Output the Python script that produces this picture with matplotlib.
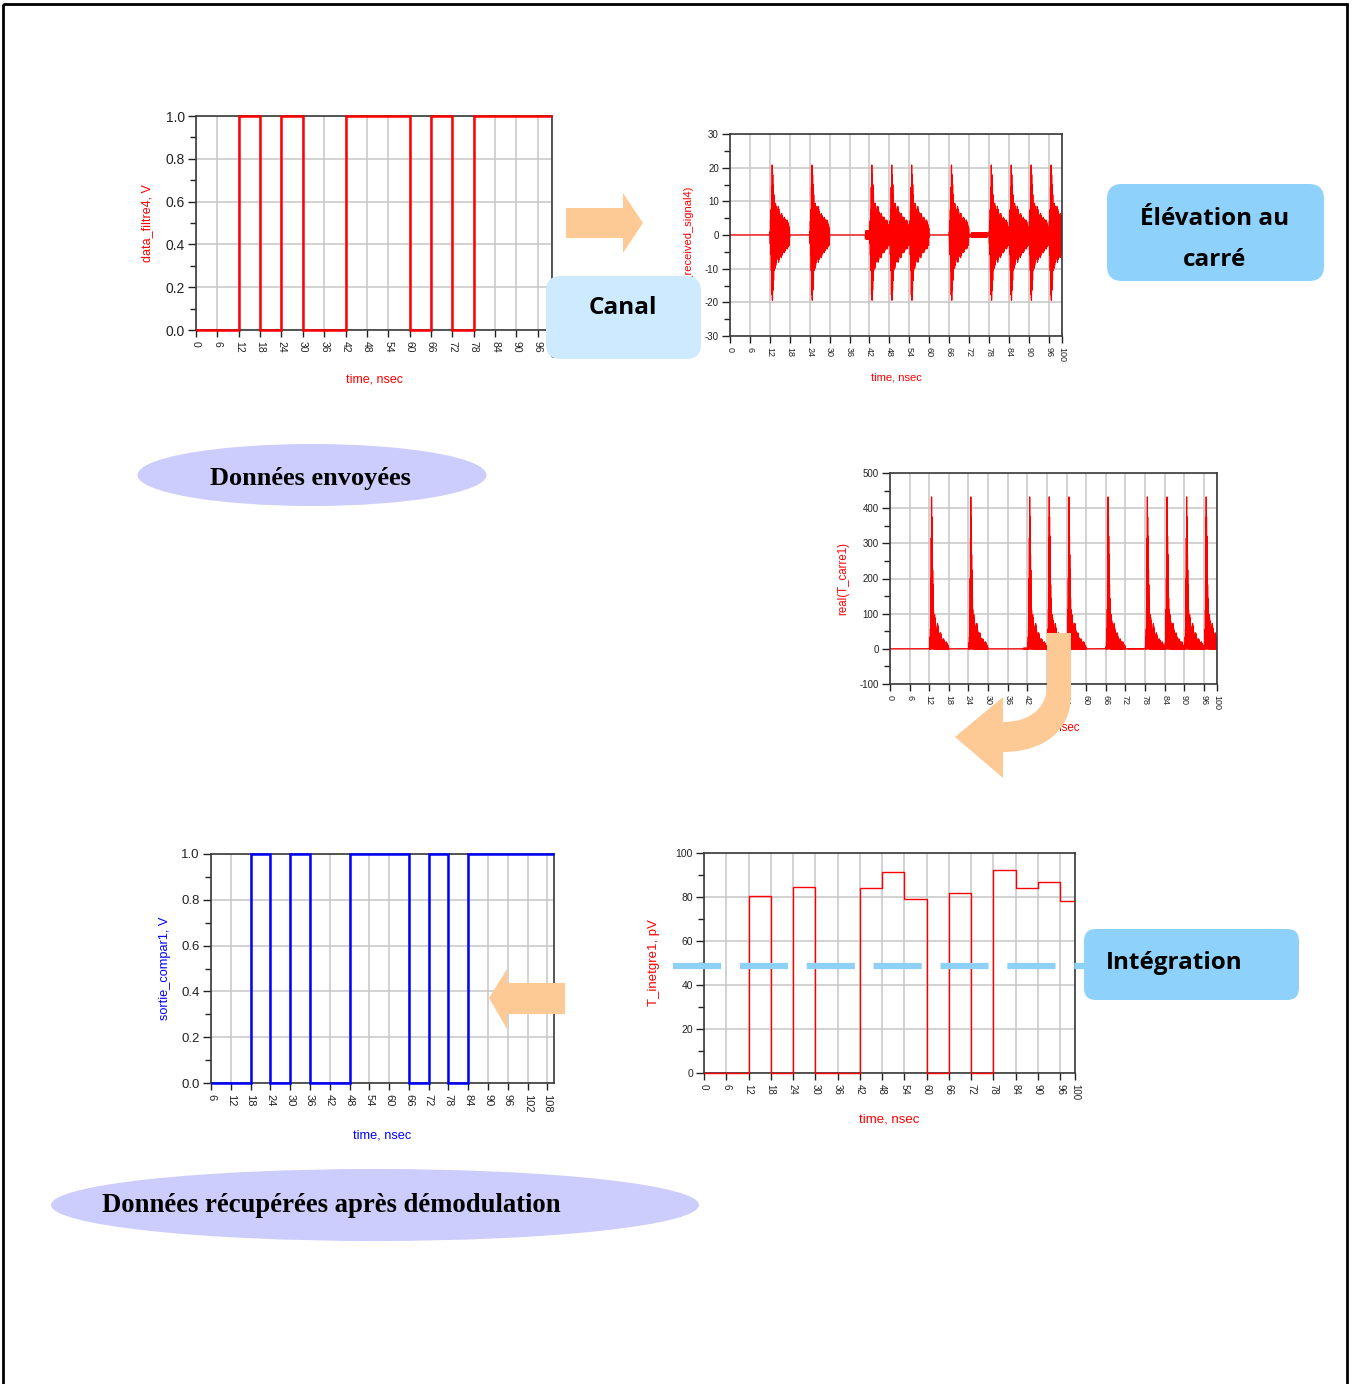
import numpy as np
import matplotlib.pyplot as plt
from matplotlib.patches import FancyBboxPatch, Ellipse, Rectangle, PathPatch, Polygon
from matplotlib.path import Path
from matplotlib.transforms import Affine2D

plt.rcParams['font.family'] = ['Liberation Sans', 'DejaVu Sans']
plt.rcParams['axes.unicode_minus'] = False

W, H = 1354, 1384

# ============ DATA ============

slot_ns = 6
time_ticks = [0, 6, 12, 18, 24, 30, 36, 42, 48, 54, 60, 66, 72, 78, 84, 90, 96, 100]

# sent bits, one per 6 ns slot starting at 0 ns
sent_bits = [0, 0, 1, 0, 1, 0, 0, 1, 1, 1, 0, 1, 0, 1, 1, 1, 1]

# recovered bits, one per 6 ns slot starting at 6 ns
recovered_start = 6
recovered_bits = [0, 0, 1, 0, 1, 0, 0, 1, 1, 1, 0, 1, 0, 1, 1, 1, 1, 1]
recovered_ticks = [6, 12, 18, 24, 30, 36, 42, 48, 54, 60, 66, 72, 78, 84, 90, 96, 102, 108]

# received signal: start of each burst (ns) and burst envelope (ns after start, amplitude)
burst_starts = [12, 24, 42, 48, 54, 66, 78, 84, 90, 96]
env_t = [0.0, 0.4, 0.7, 1.55, 1.6, 2.45, 2.5, 3.35, 3.4, 4.25, 4.3, 5.15, 5.2, 5.75, 5.8, 6.0]
env_a = [0.0, 8.0, 21.0, 6.0, 10.0, 5.5, 8.7, 4.5, 7.0, 3.5, 5.5, 3.0, 4.5, 2.5, 3.2, 0.0]
carrier_ghz = 6.0
# small residual oscillation between bursts (start, end, amplitude)
leaks = [(40.8, 42.0, 1.2), (72.6, 77.6, 0.6)]

# integrator output, pV
integ_edges = [0, 12, 18, 24, 30, 42, 48, 54, 60, 66, 72, 78, 84, 90, 96, 100]
integ_vals = [0, 80.3, 0, 84.5, 0, 84.0, 91.3, 79.0, 0, 81.7, 0, 92.3, 84.0, 86.6, 78.3]
threshold = 48.6

# ============ BUILD SIGNALS ============

t = np.arange(0, 100.0001, 0.005)
env = np.zeros_like(t)
for s in burst_starts:
    m = (t >= s) & (t <= s + env_t[-1])
    env[m] = np.maximum(env[m], np.interp(t[m] - s, env_t, env_a))
for a, b, amp in leaks:
    m = (t >= a) & (t <= b)
    env[m] = np.maximum(env[m], amp)
received = env * np.sin(2 * np.pi * carrier_ghz * t)
squared = received ** 2

fig = plt.figure(figsize=(W / 100, H / 100), dpi=100)
pix = Affine2D().scale(1 / W, -1 / H).translate(0, 1) + fig.transFigure


def make_axes(l, t_, r, b):
    return fig.add_axes([l / W, 1 - b / H, (r - l) / W, (b - t_) / H])


def style(ax, box, xlim, xticks, ylim, yticks, yminor, xlabel, ylabel, color,
          xfs, yfs, lfs, xlab_px, ylab_px, ylab_y=0.5):
    l, t_, r, b = box
    ax.set_xlim(xlim)
    ax.set_ylim(ylim)
    ax.set_xticks(xticks)
    ax.set_yticks(yticks)
    ax.set_yticks(yminor, minor=True)
    ax.grid(True, which='major', color='#c6c6c6', lw=1.1)
    ax.set_axisbelow(True)
    ax.tick_params(axis='x', rotation=-90, labelsize=xfs, length=5, width=1.0,
                   pad=3, colors='#222222')
    ax.tick_params(axis='y', which='major', labelsize=yfs, length=6, width=1.0,
                   pad=2, colors='#222222')
    ax.tick_params(axis='y', which='minor', length=4, width=1.0, colors='#222222')
    for sp in ax.spines.values():
        sp.set_color('#3a3a3a')
        sp.set_linewidth(1.2)
    ax.set_xlabel(xlabel, color=color, fontsize=lfs)
    ax.set_ylabel(ylabel, color=color, fontsize=lfs)
    ax.xaxis.label.set_verticalalignment('center')
    ax.yaxis.label.set_verticalalignment('center')
    ax.xaxis.set_label_coords(0.5, -(xlab_px - b) / (b - t_))
    ax.yaxis.set_label_coords(-(l - ylab_px) / (r - l), ylab_y)


# --- top left: sent data ---
box1 = (196, 116, 552, 330)
ax1 = make_axes(*box1)
e1 = np.minimum(slot_ns * np.arange(len(sent_bits) + 1), 100)
ax1.stairs(sent_bits, e1, baseline=None, color='red', lw=1.8, zorder=4, clip_on=False)
style(ax1, box1, (0, 100), time_ticks, (0, 1), np.arange(0, 1.01, 0.2),
      np.arange(0.1, 1, 0.2), 'time, nsec', 'data_filtre4, V', 'red',
      7.5, 10, 9, 380, 147)

# --- top right: received signal ---
box2 = (730, 134, 1062, 336)
ax2 = make_axes(*box2)
ax2.plot(t, received, color='red', lw=0.9)
style(ax2, box2, (0, 100), time_ticks, (-30, 30), np.arange(-30, 31, 10),
      np.arange(-25, 30, 10), 'time, nsec', 'real(received_signal4)', 'red',
      6.5, 7, 8, 378, 688, ylab_y=0.47)

# --- middle right: squared signal ---
box3 = (890, 473, 1217, 684)
ax3 = make_axes(*box3)
ax3.plot(t, squared, color='red', lw=0.9)
style(ax3, box3, (0, 100), time_ticks, (-100, 500), np.arange(-100, 501, 100),
      np.arange(-50, 500, 100), 'time, nsec', 'real(T_carre1)', 'red',
      6.5, 7, 8.3, 728, 843)

# --- bottom right: integrator ---
box5 = (704, 853, 1075, 1073)
ax5 = make_axes(*box5)
ax5.stairs(integ_vals, integ_edges, baseline=None, color='red', lw=1.0,
           zorder=4, clip_on=False)
ax5.plot([-8.4, 103], [threshold, threshold], color='#8fd0f6', lw=4.5,
         ls=(0, (7.7, 3.0)), solid_capstyle='butt', dash_capstyle='butt',
         clip_on=False, zorder=5)
style(ax5, box5, (0, 100), time_ticks, (0, 100), np.arange(0, 101, 20),
      np.arange(10, 100, 20), 'time, nsec', 'T_inetgre1, pV', 'red',
      7, 7.5, 9.5, 1120, 654)

# --- bottom left: recovered data ---
box4 = (211, 854, 554, 1083)
ax4 = make_axes(*box4)
e4 = np.minimum(recovered_start + slot_ns * np.arange(len(recovered_bits) + 1), 110)
ax4.stairs(recovered_bits, e4, baseline=None, color='blue', lw=1.8, zorder=4,
           clip_on=False)
style(ax4, box4, (6, 110), recovered_ticks, (0, 1), np.arange(0, 1.01, 0.2),
      np.arange(0.1, 1, 0.2), 'time, nsec', 'sortie_compar1, V', 'blue',
      8, 9.5, 9.2, 1136, 165)

# ============ DECORATIONS (pixel coordinates) ============

peach = '#fdca96'
fig.patches.append(Rectangle((3, 4), 1344, 1400, fill=False, ec='black', lw=2,
                             transform=pix))

fig.patches.append(Polygon([(566, 208), (623, 208), (623, 193), (643, 223),
                            (623, 253), (623, 238), (566, 238)],
                           closed=True, fc=peach, ec='none', transform=pix))
fig.patches.append(Polygon([(565, 983), (507, 983), (507, 969), (489, 998),
                            (507, 1029), (507, 1014), (565, 1014)],
                           closed=True, fc=peach, ec='none', transform=pix))
verts = [(1071, 633), (1071, 695), (1071, 732), (1042, 752), (1003, 752),
         (1003, 778), (955, 737), (1003, 697), (1003, 722),
         (1030, 722), (1047, 708), (1047, 685), (1047, 633), (1071, 633)]
codes = [Path.MOVETO, Path.LINETO, Path.CURVE4, Path.CURVE4, Path.CURVE4,
         Path.LINETO, Path.LINETO, Path.LINETO, Path.LINETO,
         Path.CURVE4, Path.CURVE4, Path.CURVE4, Path.LINETO, Path.CLOSEPOLY]
fig.patches.append(PathPatch(Path(verts, codes), fc=peach, ec='none', transform=pix))

calib = ['Open Sans', 'DejaVu Sans']
box_fs = 17.5
fig.patches.append(FancyBboxPatch((546, 276), 155, 83,
                                  boxstyle='round,pad=0,rounding_size=15',
                                  fc='#cdeafe', ec='none', transform=pix))
fig.text(623, 308, 'Canal', transform=pix, ha='center', va='center',
         fontsize=box_fs, fontweight='bold', family=calib)

fig.patches.append(FancyBboxPatch((1107, 184), 217, 97,
                                  boxstyle='round,pad=0,rounding_size=15',
                                  fc='#8ed2fc', ec='none', transform=pix))
fig.text(1215, 219, 'Élévation au', transform=pix, ha='center', va='center',
         fontsize=box_fs, fontweight='bold', family=calib)
fig.text(1215, 260, 'carré', transform=pix, ha='center', va='center',
         fontsize=box_fs, fontweight='bold', family=calib)

fig.patches.append(FancyBboxPatch((1084, 929), 215, 71,
                                  boxstyle='round,pad=0,rounding_size=12',
                                  fc='#8ed2fc', ec='none', transform=pix))
fig.text(1106, 963, 'Intégration', transform=pix, ha='left', va='center',
         fontsize=box_fs, fontweight='bold', family=calib)

times = ['Liberation Serif', 'DejaVu Serif']
fig.patches.append(Ellipse((312, 475), 349, 62, fc='#ccccfd', ec='none', transform=pix))
fig.text(310, 479, 'Données envoyées', transform=pix, ha='center', va='center',
         fontsize=19, fontweight='bold', family=times)
fig.patches.append(Ellipse((375, 1205), 648, 72, fc='#ccccfd', ec='none', transform=pix))
fig.text(102, 1206, 'Données récupérées après démodulation', transform=pix,
         ha='left', va='center', fontsize=19.2, fontweight='bold', family=times)

fig.savefig('out.png', dpi=100)
